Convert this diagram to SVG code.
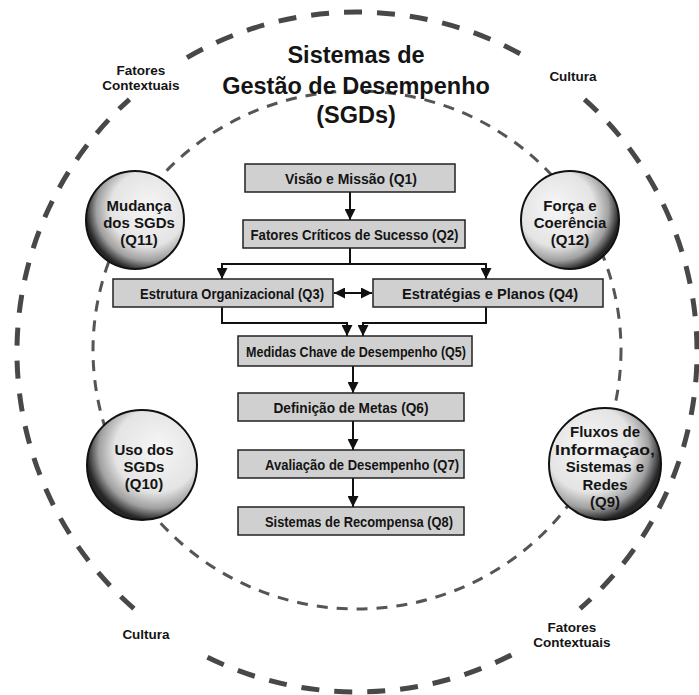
<svg xmlns="http://www.w3.org/2000/svg" width="699" height="695" viewBox="0 0 699 695">
<style>
text{font-family:"Liberation Sans",Arial,sans-serif;font-weight:bold;fill:#141414;text-anchor:middle}
.title{font-size:23.5px}
.lab{font-size:13.5px}
.bt{font-size:15px}
.ct{font-size:15px}
.box{fill:#d0d0d0;stroke:#222;stroke-width:1.5}
.sph{stroke:#111;stroke-width:2}
.outer{fill:none;stroke:#484848;stroke-width:5;stroke-dasharray:18 15}
.inner{fill:none;stroke:#555;stroke-width:3;stroke-dasharray:11 9}
.con{fill:none;stroke:#111;stroke-width:2}
</style>
<defs>
<marker id="ah" viewBox="0 0 10 10" refX="10" refY="5" markerWidth="11" markerHeight="11" markerUnits="userSpaceOnUse" orient="auto-start-reverse">
<path d="M0,0 L10,5 L0,10 z" fill="#111"/>
</marker>
<radialGradient id="gL" cx="0.62" cy="0.4" r="0.62" fx="0.66" fy="0.36">
<stop offset="0" stop-color="#f6f6f6"/><stop offset="0.62" stop-color="#e4e4e4"/><stop offset="0.84" stop-color="#a0a0a0"/><stop offset="1" stop-color="#262626"/>
</radialGradient>
<radialGradient id="gR" cx="0.38" cy="0.4" r="0.62" fx="0.34" fy="0.36">
<stop offset="0" stop-color="#f6f6f6"/><stop offset="0.62" stop-color="#e4e4e4"/><stop offset="0.84" stop-color="#a0a0a0"/><stop offset="1" stop-color="#262626"/>
</radialGradient>
<radialGradient id="gBL" cx="0.62" cy="0.38" r="0.62" fx="0.66" fy="0.34">
<stop offset="0" stop-color="#f6f6f6"/><stop offset="0.62" stop-color="#e4e4e4"/><stop offset="0.84" stop-color="#a0a0a0"/><stop offset="1" stop-color="#262626"/>
</radialGradient>
<radialGradient id="gBR" cx="0.38" cy="0.38" r="0.62" fx="0.34" fy="0.34">
<stop offset="0" stop-color="#f6f6f6"/><stop offset="0.62" stop-color="#e4e4e4"/><stop offset="0.84" stop-color="#a0a0a0"/><stop offset="1" stop-color="#262626"/>
</radialGradient>
</defs>
<rect width="699" height="695" fill="#fff"/>
<g id="outer-circle">
<path class="outer" d="M187,57.6 A340,340 0 0 1 527,57.6"/>
<path class="outer" d="M584.5,99.3 A340,340 0 0 1 580.1,608.6"/>
<path class="outer" d="M511.4,654.9 A340,340 0 0 1 202.6,654.9"/>
<path class="outer" d="M133.9,608.6 A340,340 0 0 1 129.5,99.3"/>
</g>
<g id="inner-circle">
<ellipse class="inner" cx="357" cy="350" rx="264" ry="259"/>
</g>
<g id="title">
<text class="title" x="356" y="63">Sistemas de</text>
<text class="title" x="356" y="94">Gestão de Desempenho</text>
<text class="title" x="356" y="123">(SGDs)</text>
</g>
<g id="label-fatores-tl"><text class="lab" x="141" y="75">Fatores</text><text class="lab" x="141" y="90">Contextuais</text></g>
<g id="label-cultura-tr"><text class="lab" x="573" y="81">Cultura</text></g>
<g id="label-cultura-bl"><text class="lab" x="146" y="639">Cultura</text></g>
<g id="label-fatores-br"><text class="lab" x="572" y="632">Fatores</text><text class="lab" x="572" y="647">Contextuais</text></g>
<g id="connectors">
<path class="con" d="M350,192 V220" marker-end="url(#ah)"/>
<path class="con" d="M350,248 V264"/>
<path class="con" d="M222,264 H486"/>
<path class="con" d="M222,263 V279" marker-end="url(#ah)"/>
<path class="con" d="M486,263 V279" marker-end="url(#ah)"/>
<path class="con" d="M334,293 H372" marker-start="url(#ah)" marker-end="url(#ah)"/>
<path class="con" d="M222,307 V323 H347 V336" marker-end="url(#ah)"/>
<path class="con" d="M486,307 V323 H363 V336" marker-end="url(#ah)"/>
<path class="con" d="M353,366 V393" marker-end="url(#ah)"/>
<path class="con" d="M353,421 V450" marker-end="url(#ah)"/>
<path class="con" d="M353,478 V507" marker-end="url(#ah)"/>
</g>
<g id="q1"><rect class="box" x="245" y="164" width="210" height="28"/><text class="bt" x="351" y="183.5" textLength="132" lengthAdjust="spacingAndGlyphs">Visão e Missão (Q1)</text></g>
<g id="q2"><rect class="box" x="243" y="220" width="222" height="28"/><text class="bt" x="354.5" y="239.5" textLength="208" lengthAdjust="spacingAndGlyphs">Fatores Críticos de Sucesso (Q2)</text></g>
<g id="q3"><rect class="box" x="113" y="279" width="220" height="28"/><text class="bt" x="232" y="298.5" textLength="184" lengthAdjust="spacingAndGlyphs">Estrutura Organizacional (Q3)</text></g>
<g id="q4"><rect class="box" x="373" y="279" width="230" height="28"/><text class="bt" x="490" y="298.5" textLength="176" lengthAdjust="spacingAndGlyphs">Estratégias e Planos (Q4)</text></g>
<g id="q5"><rect class="box" x="238" y="336" width="234" height="30"/><text class="bt" x="356" y="356.5" textLength="220" lengthAdjust="spacingAndGlyphs">Medidas Chave de Desempenho (Q5)</text></g>
<g id="q6"><rect class="box" x="238" y="393" width="226" height="28"/><text class="bt" x="351" y="412.5" textLength="155" lengthAdjust="spacingAndGlyphs">Definição de Metas (Q6)</text></g>
<g id="q7"><rect class="box" x="238" y="450" width="226" height="28"/><text class="bt" x="362" y="469.5" textLength="194" lengthAdjust="spacingAndGlyphs">Avaliação de Desempenho (Q7)</text></g>
<g id="q8"><rect class="box" x="238" y="507" width="226" height="28"/><text class="bt" x="359" y="526.5" textLength="188" lengthAdjust="spacingAndGlyphs">Sistemas de Recompensa (Q8)</text></g>
<g id="q11"><circle class="sph" cx="135" cy="220" r="49" fill="url(#gL)"/><text class="ct" x="139" y="211">Mudança</text><text class="ct" x="139" y="228">dos SGDs</text><text class="ct" x="139" y="245">(Q11)</text></g>
<g id="q12"><circle class="sph" cx="570" cy="220" r="49" fill="url(#gR)"/><text class="ct" x="570" y="211">Força e</text><text class="ct" x="570" y="228">Coerência</text><text class="ct" x="570" y="245">(Q12)</text></g>
<g id="q10"><circle class="sph" cx="142" cy="465" r="55" fill="url(#gBL)"/><text class="ct" x="144" y="455">Uso dos</text><text class="ct" x="144" y="472">SGDs</text><text class="ct" x="144" y="489">(Q10)</text></g>
<g id="q9"><circle class="sph" cx="605" cy="464" r="56" fill="url(#gBR)"/><text class="ct" x="605" y="437">Fluxos de</text><text class="ct" x="605" y="454.5" textLength="100" lengthAdjust="spacingAndGlyphs">Informaçao,</text><text class="ct" x="605" y="472">Sistemas e</text><text class="ct" x="605" y="489.5">Redes</text><text class="ct" x="605" y="507">(Q9)</text></g>
</svg>
